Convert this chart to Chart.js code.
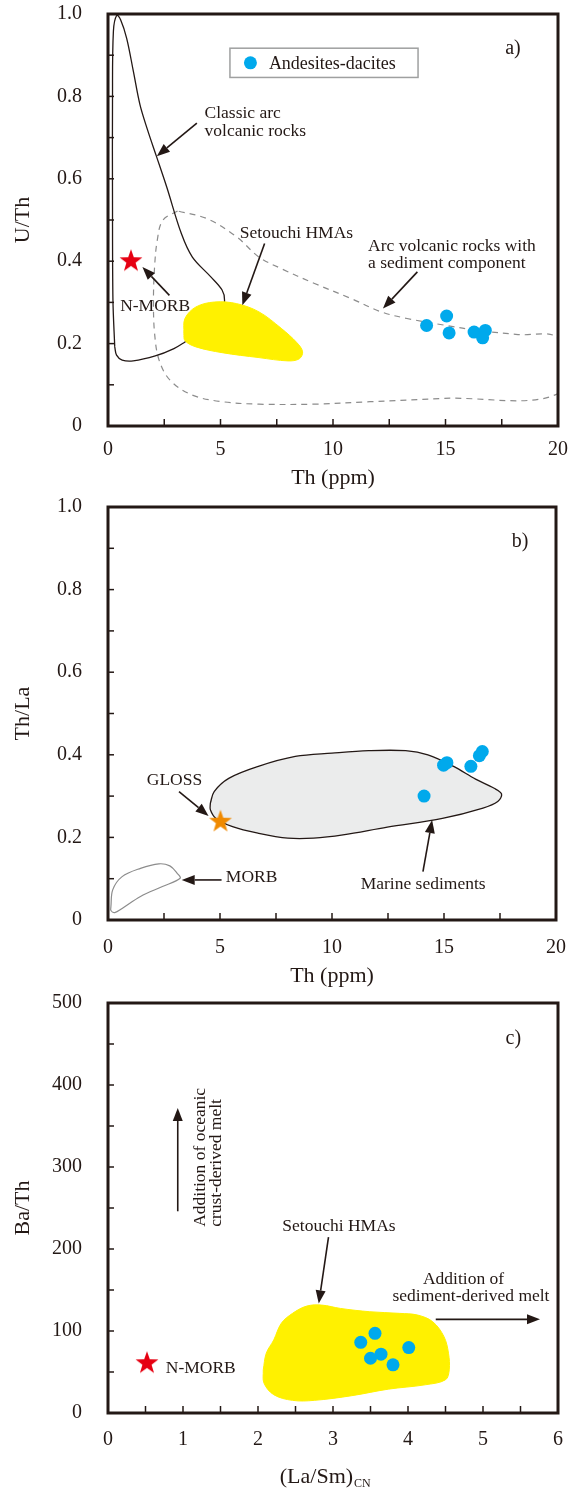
<!DOCTYPE html>
<html lang="en">
<head>
<meta charset="UTF-8" />
<title>U/Th, Th/La and Ba/Th diagrams</title>
<script src="https://cdn.jsdelivr.net/npm/chart.js"></script>
<style>
  body { margin: 0; background: #fff; }
  canvas { position: absolute; left: 0; }
</style>
</head>
<body>
<canvas id="chartA" width="582" height="492" style="top:0"></canvas>
<canvas id="chartB" width="582" height="498" style="top:492px"></canvas>
<canvas id="chartC" width="582" height="499" style="top:990px"></canvas>

<script>
  // ---- a) U/Th vs Th ----
  const thA = [14.16, 15.05, 15.16, 16.27, 16.77, 16.65];
  const uThA = [0.244, 0.267, 0.226, 0.228, 0.232, 0.214];
  const nMorbThA = [1.02];
  const nMorbUThA = [0.40];
  const classicArcTh = [0.30, 0.22, 0.20, 0.20, 0.24, 0.39, 0.56, 0.83, 1.13, 1.42, 1.75, 2.15, 2.61, 3.26, 3.75, 4.57, 5.07, 5.18, 5.0, 3.42, 2.93, 2.1, 1.12, 0.63, 0.38, 0.30];
  const classicArcUTh = [0.192, 0.305, 0.548, 0.79, 0.958, 0.997, 0.986, 0.941, 0.86, 0.78, 0.72, 0.655, 0.58, 0.467, 0.41, 0.362, 0.33, 0.305, 0.26, 0.204, 0.188, 0.17, 0.158, 0.16, 0.172, 0.192];
  const sedArcTh = [3.09, 2.43, 2.19, 2.07, 2.02, 2.07, 2.27, 2.76, 3.75, 5.07, 6.71, 9.18, 11.64, 14.93, 20, 20, 18.22, 16.58, 14.93, 13.29, 12.14, 10.82, 9.18, 7.7, 6.71, 5.72, 4.41, 3.09];
  const sedArcUTh = [0.522, 0.499, 0.451, 0.386, 0.305, 0.225, 0.16, 0.111, 0.075, 0.059, 0.053, 0.053, 0.059, 0.067, 0.079, 0.212, 0.222, 0.231, 0.245, 0.261, 0.277, 0.309, 0.346, 0.382, 0.41, 0.459, 0.503, 0.522];
  const hmaTh = [3.37, 3.42, 3.91, 4.74, 5.72, 6.71, 7.70, 8.40, 8.65, 8.50, 8.0, 6.71, 5.07, 3.91, 3.42, 3.37];
  const hmaUTh = [0.225, 0.261, 0.289, 0.301, 0.297, 0.277, 0.237, 0.202, 0.180, 0.163, 0.158, 0.166, 0.178, 0.192, 0.207, 0.225];

  // ---- b) Th/La vs Th ----
  const thB = [14.11, 14.98, 15.13, 16.2, 16.58, 16.71];
  const thLaB = [0.300, 0.375, 0.381, 0.372, 0.398, 0.408];
  const glossTh = [5.02];
  const glossThLa = [0.238];
  const marineTh = [4.57, 4.74, 5.39, 6.71, 8.36, 10.0, 11.64, 13.29, 14.28, 15.43, 16.41, 17.24, 17.57, 17.4, 16.74, 14.93, 12.47, 10.49, 9.18, 8.03, 6.71, 5.56, 4.82, 4.57, 4.57];
  const marineThLa = [0.283, 0.311, 0.343, 0.372, 0.396, 0.404, 0.41, 0.41, 0.4, 0.372, 0.341, 0.319, 0.305, 0.287, 0.271, 0.246, 0.225, 0.206, 0.198, 0.198, 0.21, 0.226, 0.246, 0.267, 0.283];
  const morbTh = [0.13, 0.21, 0.63, 1.45, 2.27, 2.76, 3.09, 3.22, 2.43, 1.45, 0.63, 0.30, 0.13, 0.13];
  const morbThLa = [0.032, 0.073, 0.105, 0.125, 0.136, 0.131, 0.113, 0.101, 0.081, 0.057, 0.028, 0.018, 0.023, 0.032];

  // ---- c) Ba/Th vs (La/Sm)CN ----
  const laSmC = [3.37, 3.56, 3.50, 3.64, 3.80, 4.01];
  const baThC = [86.2, 97.2, 66.8, 71.7, 58.7, 79.8];
  const nMorbLaSm = [0.52];
  const nMorbBaTh = [60.7];
  const hmaLaSm = [2.07, 2.11, 2.21, 2.31, 2.46, 2.65, 2.85, 3.10, 3.49, 3.89, 4.13, 4.33, 4.48, 4.54, 4.55, 4.50, 4.23, 3.74, 3.25, 2.75, 2.46, 2.21, 2.08, 2.07];
  const hmaBaTh = [52.6, 72.9, 89.1, 109.3, 121.5, 130.4, 131.6, 127.5, 123.5, 121.5, 119.4, 111.3, 93.1, 72.9, 52.6, 40.5, 34.4, 29.1, 21.1, 15.4, 15.4, 22.3, 36.4, 52.6];

  // ticks (minor + major) and labelled values
  const thTicks = [0, 2.5, 5, 7.5, 10, 12.5, 15, 17.5, 20];
  const thLabels = [0, 5, 10, 15, 20];
  const ratioTicks = [0, 0.1, 0.2, 0.3, 0.4, 0.5, 0.6, 0.7, 0.8, 0.9, 1.0];
  const ratioLabels = [0, 0.2, 0.4, 0.6, 0.8, 1.0];
  const laSmTicks = [0, 0.5, 1, 1.5, 2, 2.5, 3, 3.5, 4, 4.5, 5, 5.5, 6];
  const laSmLabels = [0, 1, 2, 3, 4, 5, 6];
  const baThTicks = [0, 50, 100, 150, 200, 250, 300, 350, 400, 450, 500];
  const baThLabels = [0, 100, 200, 300, 400, 500];

  const serif = "'Liberation Serif', 'Times New Roman', serif";
  const ink = '#231815';
  const blue = '#00a9ec';
  Chart.defaults.font.family = serif;
  Chart.defaults.color = ink;

  const xy = (xs, ys) => xs.map((x, i) => ({ x, y: ys[i] }));

  function starImage(color, r) {
    const c = document.createElement('canvas');
    c.width = c.height = 2 * r + 2;
    const g = c.getContext('2d');
    g.fillStyle = color;
    g.beginPath();
    for (let i = 0; i < 10; i++) {
      const rad = i % 2 ? r * 0.4 : r;
      const a = -Math.PI / 2 + i * Math.PI / 5;
      g.lineTo(r + 1 + rad * Math.cos(a), r + 1 + rad * Math.sin(a));
    }
    g.closePath();
    g.fill();
    return c;
  }

  const dots = (xs, ys) => ({
    data: xy(xs, ys), showLine: false, pointRadius: 6.5,
    pointBackgroundColor: blue, backgroundColor: blue, pointBorderWidth: 0
  });
  const starPts = (xs, ys, color) => ({
    data: xy(xs, ys), showLine: false, pointRadius: 12, pointStyle: starImage(color, 12)
  });
  const field = (xs, ys, style) => Object.assign({
    data: xy(xs, ys), showLine: true, pointRadius: 0, tension: 0.35,
    fill: false, borderColor: ink, borderWidth: 1.3
  }, style);

  function arrow(ctx, a, b) {
    const ang = Math.atan2(b[1] - a[1], b[0] - a[0]);
    const L = 13, W = 5;
    const bx = b[0] - L * Math.cos(ang), by = b[1] - L * Math.sin(ang);
    ctx.strokeStyle = ink; ctx.fillStyle = ink; ctx.lineWidth = 1.6;
    ctx.beginPath(); ctx.moveTo(a[0], a[1]); ctx.lineTo(bx, by); ctx.stroke();
    ctx.beginPath();
    ctx.moveTo(b[0], b[1]);
    ctx.lineTo(bx + W * Math.sin(ang), by - W * Math.cos(ang));
    ctx.lineTo(bx - W * Math.sin(ang), by + W * Math.cos(ang));
    ctx.closePath(); ctx.fill();
  }

  const deco = {
    id: 'deco',
    afterDatasetsDraw(chart, args, o) {
      const { ctx } = chart;
      const sx = chart.scales.x, sy = chart.scales.y;
      const P = (x, y) => [sx.getPixelForValue(x), sy.getPixelForValue(y)];
      ctx.save();
      if (o.legend) {
        const g = o.legend;
        const [x1, y1] = P(g.x1, g.y1), [x2, y2] = P(g.x2, g.y2);
        ctx.strokeStyle = '#9fa0a0'; ctx.lineWidth = 1.5;
        ctx.strokeRect(x1, y1, x2 - x1, y2 - y1);
        const [dx, dy] = P(g.dotX, (g.y1 + g.y2) / 2);
        ctx.fillStyle = blue;
        ctx.beginPath(); ctx.arc(dx, dy, 6.5, 0, Math.PI * 2); ctx.fill();
        ctx.fillStyle = ink; ctx.font = `18px ${serif}`;
        ctx.textAlign = 'left'; ctx.textBaseline = 'middle';
        ctx.fillText(g.text, P(g.textX, 0)[0], dy + 1);
      }
      (o.arrows || []).forEach(a => arrow(ctx, P(a[0], a[1]), P(a[2], a[3])));
      (o.notes || []).forEach(n => {
        ctx.font = `${n.size || 17.5}px ${serif}`;
        ctx.fillStyle = ink;
        ctx.textAlign = n.align || 'left';
        ctx.textBaseline = 'middle';
        const [x, y] = P(n.x, n.y);
        if (n.rotate) {
          ctx.save(); ctx.translate(x, y); ctx.rotate(-Math.PI / 2);
          ctx.fillText(n.text, 0, 0); ctx.restore();
        } else {
          ctx.fillText(n.text, x, y);
        }
      });
      ctx.restore();
    },
    afterDraw(chart, args, o) {
      const { ctx, chartArea: c } = chart;
      const sx = chart.scales.x, sy = chart.scales.y;
      ctx.save();
      ctx.strokeStyle = ink;
      ctx.lineWidth = 1.5;
      sx.ticks.forEach((t, i) => {
        const p = sx.getPixelForTick(i);
        ctx.beginPath(); ctx.moveTo(p, c.bottom); ctx.lineTo(p, c.bottom - 7); ctx.stroke();
      });
      sy.ticks.forEach((t, i) => {
        const p = sy.getPixelForTick(i);
        ctx.beginPath(); ctx.moveTo(c.left, p); ctx.lineTo(c.left + 6, p); ctx.stroke();
      });
      ctx.lineWidth = 3;
      ctx.strokeRect(c.left, c.top, c.right - c.left, c.bottom - c.top);
      if (o.subTitle) {
        const s = o.subTitle;
        ctx.fillStyle = ink; ctx.textBaseline = 'middle'; ctx.textAlign = 'left';
        ctx.font = `22px ${serif}`;
        const w1 = ctx.measureText(s.main).width;
        ctx.font = `12px ${serif}`;
        const w2 = ctx.measureText(s.sub).width;
        const x0 = sx.getPixelForValue(s.cx) - (w1 + w2) / 2;
        const y0 = c.bottom + s.dy;
        ctx.font = `22px ${serif}`;
        ctx.fillText(s.main, x0, y0);
        ctx.font = `12px ${serif}`;
        ctx.fillText(s.sub, x0 + w1 + 1, y0 + 7);
      }
      ctx.restore();
    }
  };
  Chart.register(deco);

  function panel(id, p) {
    return new Chart(document.getElementById(id), {
      type: 'line',
      data: { datasets: p.datasets },
      options: {
        responsive: false,
        animation: false,
        events: [],
        layout: { padding: { top: p.top, right: 24, bottom: 0, left: 0 } },
        plugins: { legend: { display: false }, tooltip: { enabled: false }, deco: p.deco },
        scales: {
          x: {
            type: 'linear',
            min: p.xTicks[0], max: p.xTicks[p.xTicks.length - 1],
            grid: { display: false, drawTicks: false },
            border: { display: false },
            afterBuildTicks: s => { s.ticks = p.xTicks.map(v => ({ value: v })); },
            afterFit: s => { s.height = p.xHeight; },
            ticks: {
              padding: p.xPad, maxRotation: 0, autoSkip: false, font: { size: 20 },
              callback: v => p.xLabels.includes(v) ? String(v) : ''
            },
            title: { display: !!p.xTitle, text: p.xTitle, font: { size: 22 }, padding: { top: 0, bottom: 1 } }
          },
          y: {
            type: 'linear',
            min: p.yTicks[0], max: p.yTicks[p.yTicks.length - 1],
            grid: { display: false, drawTicks: false },
            border: { display: false },
            afterBuildTicks: s => { s.ticks = p.yTicks.map(v => ({ value: v })); },
            afterFit: s => { s.width = 108; s.paddingTop = 0; s.paddingBottom = 0; },
            ticks: {
              padding: 26, autoSkip: false, font: { size: 20 },
              callback: v => p.yLabels.includes(v) ? p.yFmt(v) : ''
            },
            title: { display: true, text: p.yTitle, font: { size: 22 }, padding: { top: 10, bottom: 0 } }
          }
        }
      }
    });
  }

  const ratioFmt = v => v === 0 ? '0' : v.toFixed(1);

  panel('chartA', {
    top: 14, xHeight: 66, xPad: 12,
    xTicks: thTicks, xLabels: thLabels, xTitle: 'Th (ppm)',
    yTicks: ratioTicks, yLabels: ratioLabels, yFmt: ratioFmt, yTitle: 'U/Th',
    datasets: [
      dots(thA, uThA),
      starPts(nMorbThA, nMorbUThA, '#e60012'),
      field(hmaTh, hmaUTh, { fill: 'shape', backgroundColor: '#fff100', borderColor: '#fff100', borderWidth: 1 }),
      field(classicArcTh, classicArcUTh, {}),
      field(sedArcTh, sedArcUTh, { borderColor: '#8c8c8c', borderWidth: 1.2, borderDash: [6, 5] })
    ],
    deco: {
      legend: { x1: 5.42, y1: 0.917, x2: 13.78, y2: 0.846, dotX: 6.33, textX: 7.15, text: 'Andesites-dacites' },
      arrows: [[3.95, 0.735, 2.17, 0.655], [6.96, 0.443, 5.97, 0.293], [13.75, 0.374, 12.22, 0.285], [2.73, 0.317, 1.53, 0.386]],
      notes: [
        { text: 'Classic arc', x: 4.29, y: 0.758 },
        { text: 'volcanic rocks', x: 4.29, y: 0.716 },
        { text: 'Setouchi HMAs', x: 5.86, y: 0.468 },
        { text: 'Arc volcanic rocks with', x: 11.56, y: 0.436 },
        { text: 'a sediment component', x: 11.56, y: 0.394 },
        { text: 'N-MORB', x: 0.54, y: 0.291 },
        { text: 'a)', x: 17.65, y: 0.915, size: 20 }
      ]
    }
  });

  panel('chartB', {
    top: 15, xHeight: 70, xPad: 16,
    xTicks: thTicks, xLabels: thLabels, xTitle: 'Th (ppm)',
    yTicks: ratioTicks, yLabels: ratioLabels, yFmt: ratioFmt, yTitle: 'Th/La',
    datasets: [
      dots(thB, thLaB),
      starPts(glossTh, glossThLa, '#f08a00'),
      field(marineTh, marineThLa, { fill: 'shape', backgroundColor: '#ebecec' }),
      field(morbTh, morbThLa, { borderColor: '#8c8c8c', borderWidth: 1.2 })
    ],
    deco: {
      arrows: [[3.17, 0.311, 4.49, 0.252], [5.07, 0.097, 3.29, 0.097], [14.06, 0.117, 14.47, 0.242]],
      notes: [
        { text: 'GLOSS', x: 1.73, y: 0.338 },
        { text: 'MORB', x: 5.26, y: 0.103 },
        { text: 'Marine sediments', x: 11.28, y: 0.085 },
        { text: 'b)', x: 18.03, y: 0.917, size: 20 }
      ]
    }
  });

  panel('chartC', {
    top: 12, xHeight: 76, xPad: 15,
    xTicks: laSmTicks, xLabels: laSmLabels, xTitle: '',
    yTicks: baThTicks, yLabels: baThLabels, yFmt: v => String(v), yTitle: 'Ba/Th',
    datasets: [
      dots(laSmC, baThC),
      starPts(nMorbLaSm, nMorbBaTh, '#e60012'),
      field(hmaLaSm, hmaBaTh, { fill: 'shape', backgroundColor: '#fff100', borderColor: '#fff100', borderWidth: 1 })
    ],
    deco: {
      subTitle: { main: '(La/Sm)', sub: 'CN', cx: 2.89, dy: 64 },
      arrows: [[0.93, 246, 0.93, 372], [2.94, 214.6, 2.81, 133.6], [4.37, 114.2, 5.76, 114.2]],
      notes: [
        { text: 'Addition of oceanic', x: 1.227, y: 227, rotate: true },
        { text: 'crust-derived melt', x: 1.449, y: 227, rotate: true },
        { text: 'Setouchi HMAs', x: 3.08, y: 227.5, align: 'center' },
        { text: 'Addition of', x: 4.74, y: 163, align: 'center' },
        { text: 'sediment-derived melt', x: 4.84, y: 141.7, align: 'center' },
        { text: 'N-MORB', x: 0.77, y: 54.7 },
        { text: 'c)', x: 5.30, y: 456.7, size: 20 }
      ]
    }
  });
</script>
</body>
</html>
